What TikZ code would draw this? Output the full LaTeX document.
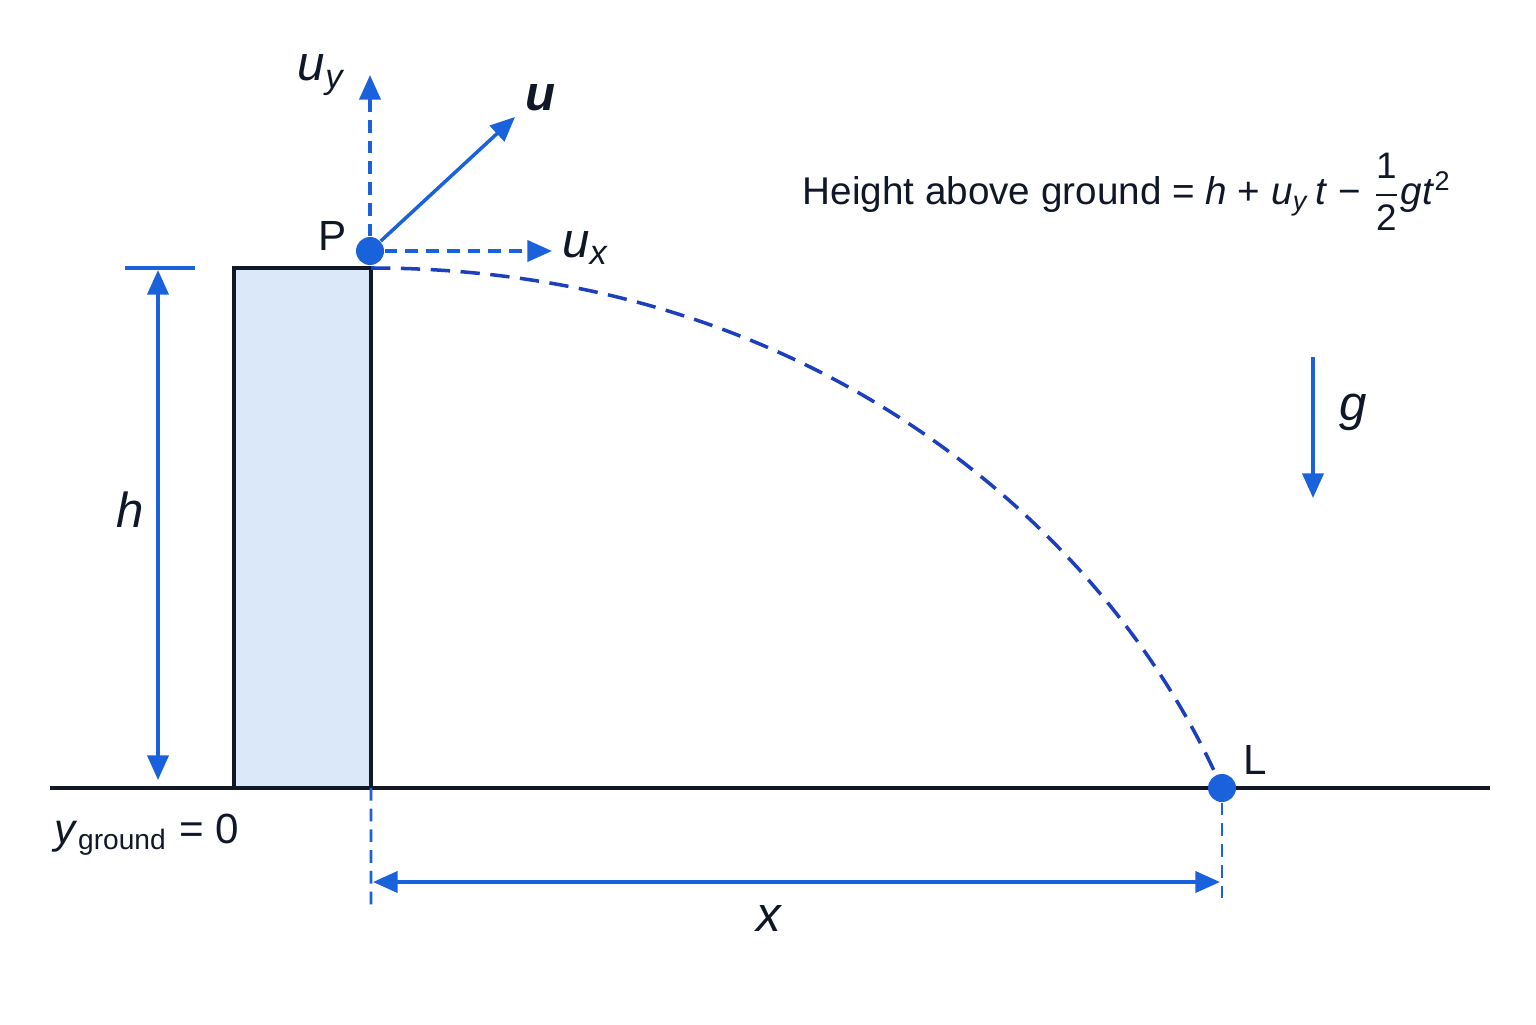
\documentclass[tikz,border=0pt]{standalone}
\usepackage{fontspec}
\setmainfont{Liberation Sans}
\usepackage{amsmath}
\usetikzlibrary{positioning}
\usetikzlibrary{arrows.meta}
\definecolor{vecblue}{HTML}{1A62DC}
\definecolor{pathblue}{HTML}{1B3FBF}
\definecolor{inkdark}{HTML}{101828}
\definecolor{towerfill}{HTML}{DAE8FA}
\newcommand{\isub}[2]{\textit{#1}\textsubscript{\textit{#2}}}
\newcommand{\fracdigit}[1]{\text{\fontsize{10.5}{10}\selectfont #1}}

\tikzset{
    vec/.style={vecblue, line width=1pt, -{Triangle[length=7pt,width=6pt]}},
    dimline/.style={vecblue, line width=1pt, {Triangle[length=7pt,width=6pt]}-{Triangle[length=7pt,width=6pt]}},
    guide/.style={vecblue, line width=0.8pt, dash pattern=on 3.6pt off 2.3pt},
    trajectory/.style={pathblue, line width=1pt, dash pattern=on 5.5pt off 3pt},
    dot/.style={circle, fill=vecblue, minimum size=0.28cm, inner sep=0pt},
    lbl/.style={font=\fontsize{14}{16}\selectfont, text=inkdark, inner sep=1pt},
    smalllbl/.style={font=\fontsize{12}{14}\selectfont, text=inkdark, inner sep=1pt}
}

\begin{document}
\begin{tikzpicture}
            \useasboundingbox (0,0) rectangle (15.36,10.24);
            % building and ground
            \node[draw=inkdark, fill=towerfill, line width=1.1pt, minimum width=1.37cm, minimum height=5.2cm, inner sep=0pt, outer sep=0pt, anchor=south west] (tower) at (2.34,2.36) {};
            \coordinate (groundW) at (0.5,2.36);
            \coordinate (groundE) at (14.9,2.36);
            \draw[inkdark, line width=1.2pt] (groundW) -- (groundE);

            % launch and landing points
            \node[dot] (P) at (3.70,7.73) {};
            \node[dot] (L) at (12.22,2.36) {};
            \node[smalllbl] (plabel) at (3.33,7.88) {P};
            \node[smalllbl] (llabel) at (12.55,2.64) {L};

            % velocity components
            \coordinate (uyTip) at (3.70,9.49);
            \coordinate (uTip) at (5.15,9.07);
            \coordinate (uxTip) at (5.52,7.73);
            \draw[vec, dash pattern=on 3.6pt off 2.3pt] (P) -- (uyTip);
            \draw[vec] (P) -- (uTip);
            \draw[vec, dash pattern=on 3.6pt off 2.3pt] (P) -- (uxTip);
            \node[lbl] (uylabel) at (3.22,9.49) {\isub{u}{y}};
            \node[lbl] (ulabel) at (5.41,9.26) {\textbf{\textit{u}}};
            \node[lbl] (uxlabel) at (5.86,7.76) {\isub{u}{x}};

            % path of the projectile
            \draw[trajectory] (tower.north east) .. controls (8.0,7.56) and (10.96,5.09) .. (L);

            % height h
            \coordinate (hTop) at (1.58,7.54);
            \coordinate (hBot) at (1.58,2.44);
            \coordinate (tickW) at (1.25,7.56);
            \coordinate (tickE) at (1.95,7.56);
            \draw[vecblue, line width=1pt] (tickW) -- (tickE);
            \draw[dimline] (hTop) -- (hBot);
            \node[lbl] (hlabel) at (1.30,5.14) {\textit{h}};

            % range x
            \coordinate (xW) at (3.71,1.19);
            \coordinate (xE) at (12.22,1.19);
            \draw[guide] (tower.south east) -- (xW);
            \draw[guide] (L) -- (xE);
            \coordinate (xArrW) at (3.73,1.42);
            \coordinate (xArrE) at (12.20,1.42);
            \draw[dimline] (xArrW) -- (xArrE);
            \node[lbl] (xlabel) at (7.70,1.06) {\textit{x}};

            \node[smalllbl] (groundlabel) at (1.47,1.89) {\textit{y}\textsubscript{ground} = 0};

            % gravity
            \coordinate (gTop) at (13.13,6.67);
            \coordinate (gBot) at (13.13,5.26);
            \draw[vec] (gTop) -- (gBot);
            \node[lbl] (glabel) at (13.53,6.12) {\textit{g}};

            \node[font=\fontsize{11}{14}\selectfont, text=inkdark] (formula) at (11.27,8.32)
                {Height above ground = \textit{h} + \isub{u}{y}\,\textit{t} − $\dfrac{\fracdigit{1}}{\fracdigit{2}}$\textit{gt}\textsuperscript{2}};
\end{tikzpicture}
\end{document}
